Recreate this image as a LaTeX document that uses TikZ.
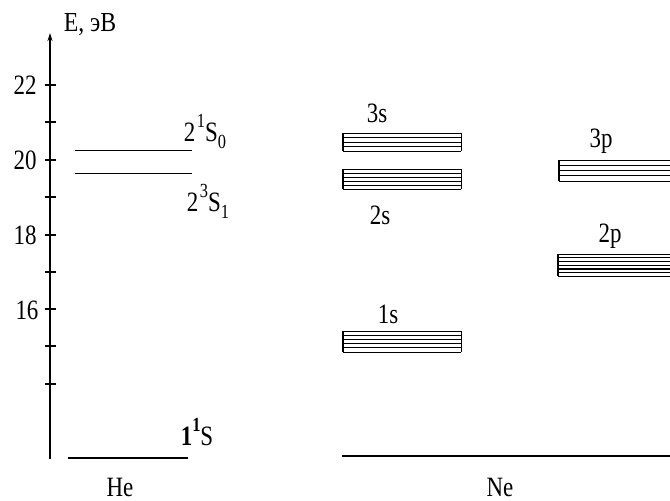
\documentclass[tikz,border=0pt]{standalone}
\usepackage{fontspec}
\setmainfont{Liberation Serif}
\newfontfamily\lser{Liberation Serif}
\usetikzlibrary{arrows.meta}
\newcommand\lvlblock[5]{%
  \foreach \i in {0,...,#5}{\draw[line width=0.9pt] (#1,{#2+(#4-#2)*\i/#5}) -- (#3,{#2+(#4-#2)*\i/#5});}
  \draw[line width=2.6pt] (#1,#2) -- (#1,#4);
  \draw[line width=0.9pt] (#3,#2) -- (#3,#4);}
\newcommand\supx[1]{\raisebox{0.5em}{\fontsize{20}{20}\selectfont #1}}
\newcommand\subx[1]{\raisebox{-0.25em}{\fontsize{20}{20}\selectfont #1}}
\newcommand\sq[1]{\scalebox{0.82}[1]{#1}}
\begin{document}
\begin{tikzpicture}[x=1pt,y=-1pt,
  lbl/.style={font=\lser\fontsize{28}{28}\selectfont, inner sep=0pt},
  tick/.style={line width=1.1pt},
  lvl/.style={line width=1pt}]
\useasboundingbox (0,0) rectangle (670,501);
% axis
\coordinate (ab) at (50,459);
\coordinate (at) at (50,33);
\draw[line width=1.3pt,-{Stealth[length=8pt,width=5pt]}] (ab) -- (at);
\foreach \y in {85,122,160,197,235,272,309,346,384}{\draw[tick] (45,\y) -- (56,\y);}
\node[inner sep=0pt, font=\lser\fontsize{25}{25}\selectfont] (e) at (90,25) {\scalebox{0.95}[1.1]{E, эВ}};
\node[lbl] (l22) at (25,85) {\sq{22}};
\node[lbl] (l20) at (25,160) {\sq{20}};
\node[lbl] (l18) at (25,235) {\sq{18}};
\node[lbl] (l16) at (27,310) {\sq{16}};
% He
\draw[lvl] (75,150) -- (192,150);
\draw[lvl] (75,173) -- (192,173);
\draw[line width=2.4pt] (68,458) -- (188,458);
\node[lbl] (s0) at (205,131) {\sq{2\kern2pt\supx{1}S\subx{0}}};
\node[lbl] (s1) at (208,201) {\sq{2\kern2pt\supx{3}S\subx{1}}};
\node[lbl] (g) at (197,432) {\sq{\textbf{1}\supx{\textbf{1}}S}};
\node[lbl, anchor=base, text depth=0pt] (he) at (120,496) {\sq{He}};
% Ne
\draw[line width=1.3pt] (342,456) -- (680,456);
\node[lbl, anchor=base, text depth=0pt] (ne) at (500,496) {\sq{Ne}};
\lvlblock{343}{133}{461}{151}{4}
\lvlblock{343}{169}{461}{189}{5}
\lvlblock{343}{331}{461}{352}{5}
\lvlblock{559}{160}{680}{181}{4}
\lvlblock{558}{254}{680}{276}{6}
\draw[line width=2.2pt] (558,269) -- (680,269);
\node[lbl] (n3s) at (377,113) {\sq{3s}};
\node[lbl] (n2s) at (380,215) {\sq{2s}};
\node[lbl] (n1s) at (388,314) {\sq{1s}};
\node[lbl] (n3p) at (601,141) {\sq{3p}};
\node[lbl] (n2p) at (610,236) {\sq{2p}};
\end{tikzpicture}
\end{document}
